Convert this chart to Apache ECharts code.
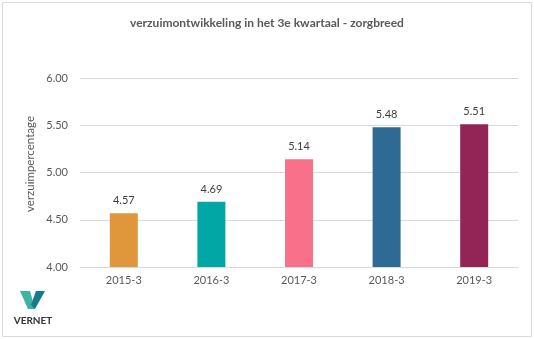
<!DOCTYPE html>
<html><head><meta charset="utf-8">
<script src="https://cdn.jsdelivr.net/npm/echarts@6/dist/echarts.min.js"></script>
<style>html,body{margin:0;padding:0;background:#fff}#c{width:534px;height:339px}</style>
</head><body><div id="c"></div>
<script>
const categories = ['2015-3','2016-3','2017-3','2018-3','2019-3'];
const values = [4.57, 4.69, 5.14, 5.48, 5.51];
const barColors = ['#E0963A','#00A7A5','#F9708A','#2F6A95','#932556'];
const yTicks = [4.0, 6.0, 0.5];
const titleText = 'verzuimontwikkeling in het 3e kwartaal - zorgbreed';
const yAxisName = 'verzuimpercentage';

const chart = echarts.init(document.getElementById('c'), null, {renderer:'canvas'});
const font = 'Lato, sans-serif';
chart.setOption({
  animation:false,
  backgroundColor:'#fff',
  title:{text:titleText,left:'center',top:12,textStyle:{fontFamily:font,fontSize:12,fontWeight:'bold',color:'#595959'}},
  grid:{left:80,right:16,top:78,bottom:72},
  xAxis:{type:'category',data:categories,
    axisLine:{lineStyle:{color:'#d9d9d9'}},axisTick:{show:false},
    axisLabel:{color:'#595959',fontFamily:font,fontSize:11,margin:8}},
  yAxis:{type:'value',min:yTicks[0],max:yTicks[1],interval:yTicks[2],
    axisLine:{show:false},axisTick:{show:false},
    splitLine:{lineStyle:{color:'#d9d9d9'}},
    axisLabel:{color:'#595959',fontFamily:font,fontSize:11,margin:12,formatter:v=>v.toFixed(2)}},
  series:[{type:'bar',barWidth:28,
    data:values.map((v,i)=>({value:v,itemStyle:{color:barColors[i]}})),
    label:{show:true,position:'top',distance:7,color:'#404040',fontFamily:font,fontSize:11,formatter:p=>p.value.toFixed(2)}}],
  graphic:[
    {type:'rect',shape:{x:2.5,y:2.5,width:529,height:334},style:{fill:'none',stroke:'#d9d9d9',lineWidth:1},silent:true},
    {type:'text',x:30,y:164,rotation:Math.PI/2,style:{text:yAxisName,align:'center',verticalAlign:'middle',fill:'#595959',font:'11.5px Lato, sans-serif'}},
    {type:'polygon',shape:{points:[[20,291],[30,291],[35,309],[28,309]]},style:{fill:'#3DB3A3'}},
    {type:'polygon',shape:{points:[[36,291],[45,291],[35,309],[31,305]]},style:{fill:'#18798A'}},
    {type:'text',style:{text:'VERNET',x:33,y:321,align:'center',verticalAlign:'middle',fill:'#333',font:'bold 10px Lato, sans-serif',letterSpacing:1.5}}
  ]
});
</script></body></html>
